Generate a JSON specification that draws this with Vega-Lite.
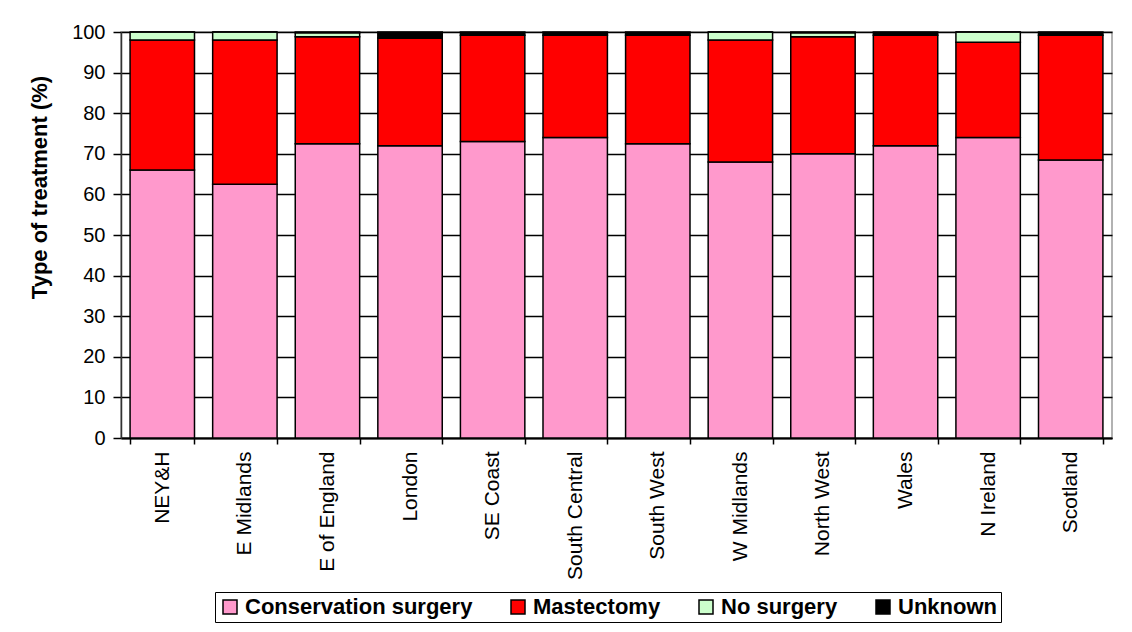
{
  "$schema": "https://vega.github.io/schema/vega-lite/v6.json",
  "width": 991,
  "height": 406,
  "autosize": {"type": "none"},
  "padding": {"left": 121, "top": 32, "right": 20, "bottom": 194},
  "background": "white",
  "config": {
    "font": "Liberation Sans",
    "view": {"stroke": "#999999", "strokeWidth": 1.5}
  },
  "data": {
    "values": [
      {"region": "NEY&H", "type": "Conservation surgery", "ord": 1, "pct": 66},
      {"region": "NEY&H", "type": "Mastectomy", "ord": 2, "pct": 32},
      {"region": "NEY&H", "type": "No surgery", "ord": 3, "pct": 2},
      {"region": "NEY&H", "type": "Unknown", "ord": 4, "pct": 0},
      {"region": "E Midlands", "type": "Conservation surgery", "ord": 1, "pct": 62.5},
      {"region": "E Midlands", "type": "Mastectomy", "ord": 2, "pct": 35.5},
      {"region": "E Midlands", "type": "No surgery", "ord": 3, "pct": 2},
      {"region": "E Midlands", "type": "Unknown", "ord": 4, "pct": 0},
      {"region": "E of England", "type": "Conservation surgery", "ord": 1, "pct": 72.5},
      {"region": "E of England", "type": "Mastectomy", "ord": 2, "pct": 26.3},
      {"region": "E of England", "type": "No surgery", "ord": 3, "pct": 1},
      {"region": "E of England", "type": "Unknown", "ord": 4, "pct": 0.2},
      {"region": "London", "type": "Conservation surgery", "ord": 1, "pct": 72},
      {"region": "London", "type": "Mastectomy", "ord": 2, "pct": 26.5},
      {"region": "London", "type": "No surgery", "ord": 3, "pct": 0},
      {"region": "London", "type": "Unknown", "ord": 4, "pct": 1.5},
      {"region": "SE Coast", "type": "Conservation surgery", "ord": 1, "pct": 73},
      {"region": "SE Coast", "type": "Mastectomy", "ord": 2, "pct": 26.2},
      {"region": "SE Coast", "type": "No surgery", "ord": 3, "pct": 0},
      {"region": "SE Coast", "type": "Unknown", "ord": 4, "pct": 0.8},
      {"region": "South Central", "type": "Conservation surgery", "ord": 1, "pct": 74},
      {"region": "South Central", "type": "Mastectomy", "ord": 2, "pct": 25.2},
      {"region": "South Central", "type": "No surgery", "ord": 3, "pct": 0},
      {"region": "South Central", "type": "Unknown", "ord": 4, "pct": 0.8},
      {"region": "South West", "type": "Conservation surgery", "ord": 1, "pct": 72.5},
      {"region": "South West", "type": "Mastectomy", "ord": 2, "pct": 26.7},
      {"region": "South West", "type": "No surgery", "ord": 3, "pct": 0},
      {"region": "South West", "type": "Unknown", "ord": 4, "pct": 0.8},
      {"region": "W Midlands", "type": "Conservation surgery", "ord": 1, "pct": 68},
      {"region": "W Midlands", "type": "Mastectomy", "ord": 2, "pct": 30},
      {"region": "W Midlands", "type": "No surgery", "ord": 3, "pct": 2},
      {"region": "W Midlands", "type": "Unknown", "ord": 4, "pct": 0},
      {"region": "North West", "type": "Conservation surgery", "ord": 1, "pct": 70},
      {"region": "North West", "type": "Mastectomy", "ord": 2, "pct": 28.8},
      {"region": "North West", "type": "No surgery", "ord": 3, "pct": 1},
      {"region": "North West", "type": "Unknown", "ord": 4, "pct": 0.2},
      {"region": "Wales", "type": "Conservation surgery", "ord": 1, "pct": 72},
      {"region": "Wales", "type": "Mastectomy", "ord": 2, "pct": 27.2},
      {"region": "Wales", "type": "No surgery", "ord": 3, "pct": 0},
      {"region": "Wales", "type": "Unknown", "ord": 4, "pct": 0.8},
      {"region": "N Ireland", "type": "Conservation surgery", "ord": 1, "pct": 74},
      {"region": "N Ireland", "type": "Mastectomy", "ord": 2, "pct": 23.5},
      {"region": "N Ireland", "type": "No surgery", "ord": 3, "pct": 2.5},
      {"region": "N Ireland", "type": "Unknown", "ord": 4, "pct": 0},
      {"region": "Scotland", "type": "Conservation surgery", "ord": 1, "pct": 68.5},
      {"region": "Scotland", "type": "Mastectomy", "ord": 2, "pct": 30.7},
      {"region": "Scotland", "type": "No surgery", "ord": 3, "pct": 0},
      {"region": "Scotland", "type": "Unknown", "ord": 4, "pct": 0.8}
    ]
  },
  "mark": {"type": "bar", "stroke": "black", "strokeWidth": 1.5},
  "encoding": {
    "x": {
      "field": "region",
      "type": "nominal",
      "sort": null,
      "scale": {"paddingInner": 0.22, "paddingOuter": 0.11},
      "axis": {
        "title": null,
        "labelAngle": -90,
        "labelFontSize": 21,
        "labelColor": "black",
        "labelPadding": 7,
        "ticks": true,
        "tickBand": "extent",
        "tickSize": 6,
        "tickColor": "black",
        "tickWidth": 1.5,
        "labelLimit": 300,
        "domainColor": "black",
        "domainWidth": 2
      }
    },
    "y": {
      "field": "pct",
      "type": "quantitative",
      "stack": "zero",
      "scale": {"domain": [0, 100], "nice": false},
      "axis": {
        "title": "Type of treatment (%)",
        "titleFontSize": 22,
        "titleFontWeight": "bold",
        "titleColor": "black",
        "titlePadding": 20,
        "titleY": 155,
        "values": [0, 10, 20, 30, 40, 50, 60, 70, 80, 90, 100],
        "labelFontSize": 20,
        "labelColor": "black",
        "labelPadding": 8,
        "tickColor": "black",
        "tickSize": 8,
        "tickWidth": 1.5,
        "domainColor": "#333333",
        "domainWidth": 1.5,
        "grid": true,
        "gridColor": "black",
        "gridWidth": 1.5
      }
    },
    "color": {
      "field": "type",
      "type": "nominal",
      "scale": {
        "domain": ["Conservation surgery", "Mastectomy", "No surgery", "Unknown"],
        "range": ["#ff99cc", "#ff0000", "#ccffcc", "#000000"]
      },
      "legend": {
        "title": null,
        "orient": "none",
        "direction": "horizontal",
        "legendX": 94,
        "legendY": 560,
        "labelFontSize": 22,
        "labelFontWeight": "bold",
        "labelColor": "black",
        "labelLimit": 400,
        "symbolType": "square",
        "symbolSize": 196,
        "symbolStrokeColor": "black",
        "symbolStrokeWidth": 1.5,
        "columnPadding": 34,
        "labelOffset": 4,
        "strokeColor": "black",
        "padding": 4,
        "fillColor": "white"
      }
    },
    "order": {"field": "ord", "type": "quantitative"}
  }
}
